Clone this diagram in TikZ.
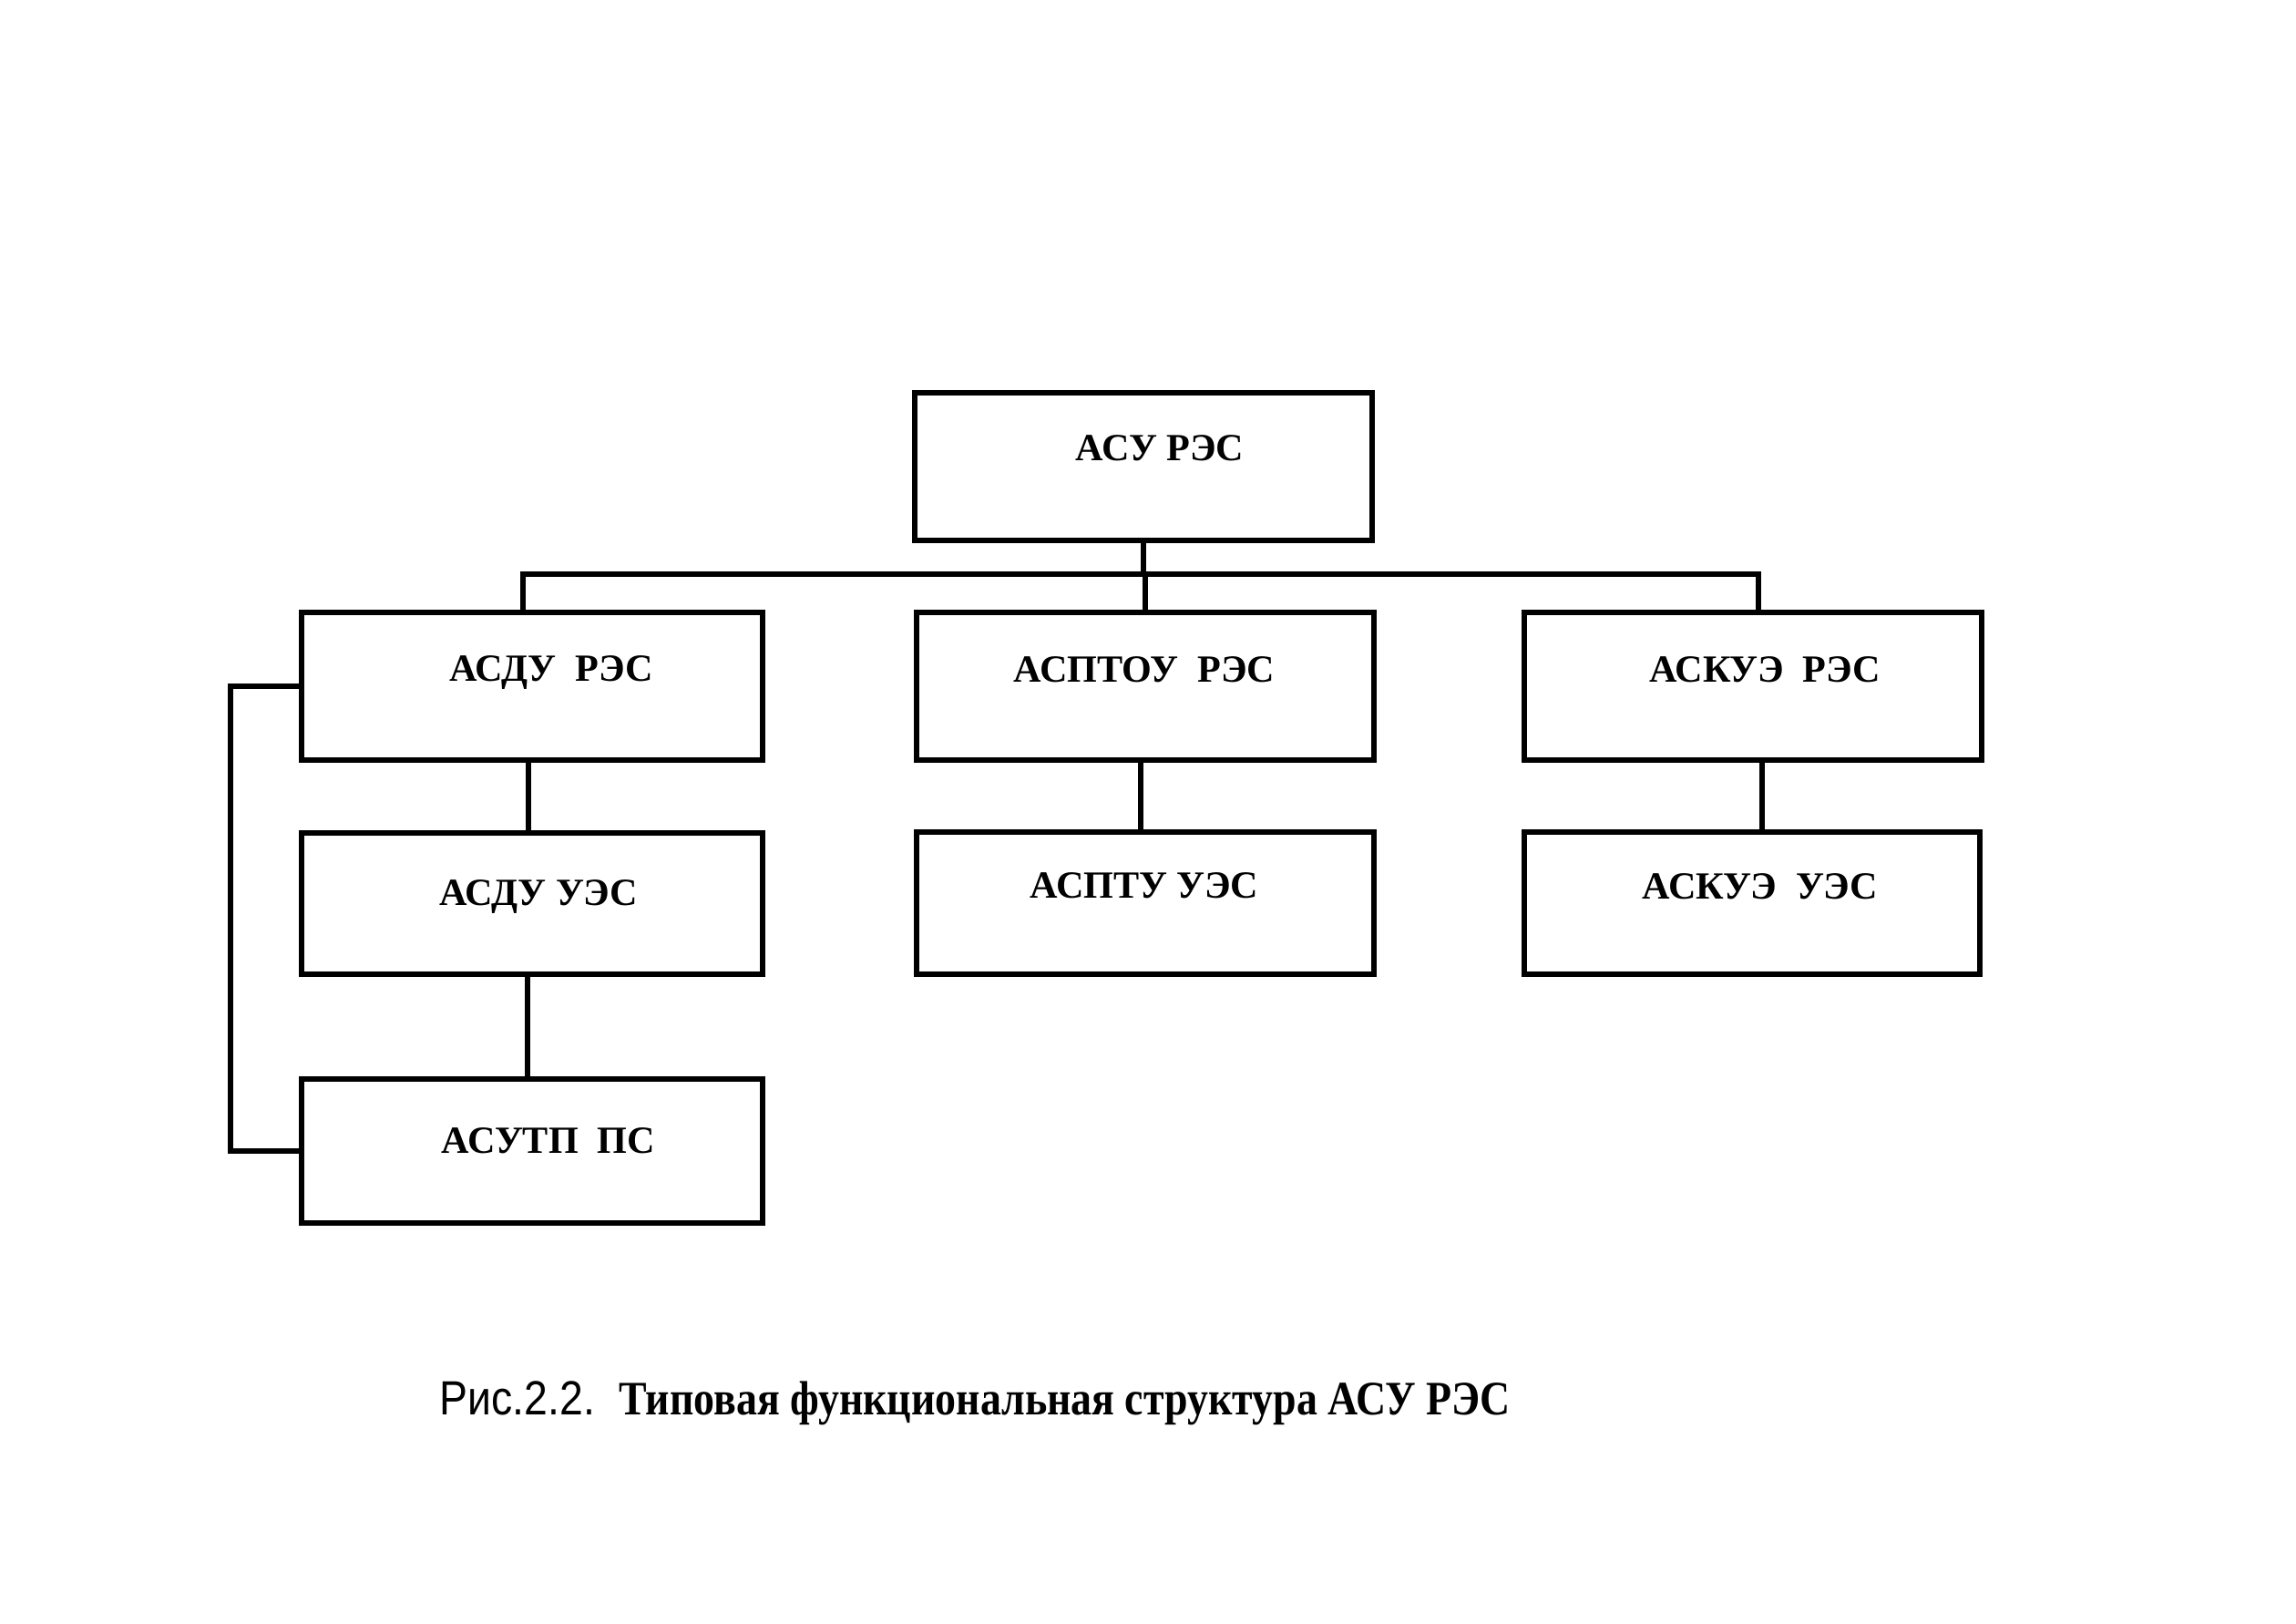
\documentclass[tikz,border=0pt]{standalone}
\usepackage{fontspec}
\setmainfont{Liberation Serif}
\newfontfamily\capsans{Liberation Sans}
\begin{document}
\begin{tikzpicture}[x=1mm,y=-1mm,
  box/.style={draw,line width=1.6pt,rectangle,inner sep=0pt},
  lbl/.style={font=\bfseries\fontsize{12}{14}\selectfont,inner sep=0pt},
  conn/.style={line width=1.6pt}]
\useasboundingbox (0,0) rectangle (252,178.2);
% boxes
\node[box,minimum width=50.2mm,minimum height=16.2mm] (top) at (125.5,51.2) {};
\node[box,minimum width=50.6mm,minimum height=16.2mm] (r1) at (58.4,75.3) {};
\node[box,minimum width=50.2mm,minimum height=16.2mm] (r2) at (125.7,75.3) {};
\node[box,minimum width=50.2mm,minimum height=16.2mm] (r3) at (192.4,75.3) {};
\node[box,minimum width=50.6mm,minimum height=15.5mm] (u1) at (58.4,99.15) {};
\node[box,minimum width=50.2mm,minimum height=15.6mm] (u2) at (125.7,99.1) {};
\node[box,minimum width=50.0mm,minimum height=15.6mm] (u3) at (192.3,99.1) {};
\node[box,minimum width=50.6mm,minimum height=15.8mm] (p) at (58.4,126.3) {};
% labels
\node[lbl] (ttop) at (127.3,49.2) {АСУ РЭС};
\node[lbl] (tr1) at (60.5,73.8) {АСДУ\ \ РЭС};
\node[lbl] (tr2) at (125.6,73.5) {АСПТОУ\ \ РЭС};
\node[lbl] (tr3) at (193.7,73.5) {АСКУЭ\ \ РЭС};
\node[lbl] (tu1) at (59.1,98.4) {АСДУ УЭС};
\node[lbl] (tu2) at (125.6,97.2) {АСПТУ УЭС};
\node[lbl] (tu3) at (193.2,97.3) {АСКУЭ\ \ УЭС};
\node[lbl] (tp) at (60.2,125.2) {АСУТП\ \ ПС};
% connectors
\coordinate (b) at (0,63);
\draw[conn] (top.south) -- (top.south |- b);
\draw[conn] ([xshift=-1mm]r1.north) -- ([xshift=-1mm]r1.north |- b) -- ([xshift=0.6mm]r3.north |- b) -- ([xshift=0.6mm]r3.north);
\draw[conn] (r2.north) -- (r2.north |- b);
\draw[conn] ([xshift=-0.4mm]r1.south) -- ([xshift=-0.4mm]u1.north);
\draw[conn] ([xshift=-0.5mm]u1.south) -- ([xshift=-0.5mm]p.north);
\draw[conn] ([xshift=-0.5mm]r2.south) -- ([xshift=-0.5mm]u2.north);
\draw[conn] ([xshift=1mm]r3.south) -- ([xshift=1mm]r3.south |- u3.north);
\draw[conn] (r1.west) -- ++(-7.5,0) |- (p.west);
% caption
\node[anchor=west,inner sep=0pt,font=\fontsize{15}{17}\selectfont] (cap) at (48.2,154.0)
  {{\capsans\scalebox{0.88}[1]{Рис.2.2.}}\ \ \scalebox{0.87}[1]{\textbf{Типовая функциональная структура АСУ РЭС}}};
\end{tikzpicture}
\end{document}
